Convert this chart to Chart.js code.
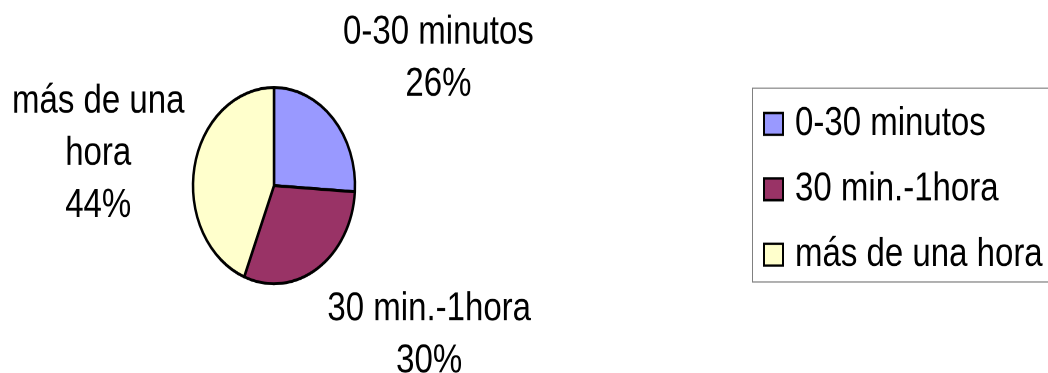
<!DOCTYPE html>
<html>
<head>
<meta charset="utf-8">
<script src="https://cdn.jsdelivr.net/npm/chart.js@4/dist/chart.umd.min.js"></script>
<style>
html, body { margin: 0; padding: 0; background: #fff; overflow: hidden; }
/* the original picture is stretched vertically, so we stretch the whole chart too */
#wrap { position: absolute; left: 0; top: 0; width: 1048px; height: 308px;
        transform: scaleY(1.211); transform-origin: 0 0; }
</style>
</head>
<body>
<div id="wrap"><canvas id="pie"></canvas></div>
<script>
var categories = ['0-30 minutos', '30 min.-1hora', 'más de una hora'];
var percentages = [26, 30, 44];
var sliceColors = ['#9999FF', '#993366', '#FFFFCC'];

var FONT = '33px "Liberation Sans", Arial, sans-serif';
var LINE = 43;   // label line height
var CAP = 23.6;  // cap height of the font

function wrapText(ctx, text, maxWidth) {
    var words = text.split(' ');
    var lines = [];
    var cur = '';
    for (var i = 0; i < words.length; i++) {
        var test = cur ? cur + ' ' + words[i] : words[i];
        if (cur && ctx.measureText(test).width > maxWidth) {
            lines.push(cur);
            cur = words[i];
        } else {
            cur = test;
        }
    }
    if (cur) lines.push(cur);
    return lines;
}

// category name + percent outside each slice
var pieLabels = {
    id: 'pieLabels',
    afterDatasetsDraw: function(chart) {
        var ctx = chart.ctx;
        var arcs = chart.getDatasetMeta(0).data;
        var values = chart.data.datasets[0].data;
        var total = values.reduce(function(a, b) { return a + b; }, 0);
        ctx.save();
        ctx.font = FONT;
        ctx.fillStyle = '#000';
        ctx.textAlign = 'center';
        ctx.textBaseline = 'alphabetic';
        for (var i = 0; i < arcs.length; i++) {
            var p = arcs[i].getProps(['x', 'y', 'startAngle', 'endAngle', 'outerRadius'], true);
            var mid = (p.startAngle + p.endAngle) / 2;
            var hx = Math.cos(mid), vu = -Math.sin(mid);
            var ax = p.x + hx * p.outerRadius;
            var ay = p.y - vu * p.outerRadius;
            var lines = wrapText(ctx, chart.data.labels[i], 210);
            lines.push(Math.round(values[i] / total * 100) + '%');
            var w = 0;
            lines.forEach(function(l) { w = Math.max(w, ctx.measureText(l).width); });
            var hb = (lines.length - 1) * LINE + CAP;
            var fx = Math.abs(hx) > 0.5 ? Math.sign(hx) : hx;
            var fy = Math.abs(vu) > 0.5 ? Math.sign(vu) : vu;
            var cx = ax + fx * (w / 2 + 10);
            var cy = ay - fy * (hb / 2 + 19);
            var y0 = cy - hb / 2 + CAP;
            for (var k = 0; k < lines.length; k++) {
                ctx.fillText(lines[k], cx, y0 + k * LINE);
            }
        }
        ctx.restore();
    }
};

// boxed legend on the right
var boxLegend = {
    id: 'boxLegend',
    afterDraw: function(chart) {
        var ctx = chart.ctx;
        var cy = chart.getDatasetMeta(0).data[0].y;
        var colors = chart.data.datasets[0].backgroundColor;
        ctx.save();
        ctx.strokeStyle = '#808080';
        ctx.lineWidth = 1;
        ctx.strokeRect(752.5, cy - 80.5, 400, 160);
        ctx.font = FONT;
        ctx.textAlign = 'left';
        ctx.textBaseline = 'alphabetic';
        for (var i = 0; i < chart.data.labels.length; i++) {
            var sy = cy - 51 + i * 54;
            ctx.fillStyle = colors[i];
            ctx.fillRect(764, sy - 9, 19, 18);
            ctx.strokeStyle = '#000';
            ctx.lineWidth = 2;
            ctx.strokeRect(764, sy - 9, 19, 18);
            ctx.fillStyle = '#000';
            ctx.fillText(chart.data.labels[i], 795, sy + 9);
        }
        ctx.restore();
    }
};

new Chart(document.getElementById('pie'), {
    type: 'pie',
    data: {
        labels: categories,
        datasets: [{
            data: percentages,
            backgroundColor: sliceColors,
            borderColor: '#000',
            borderWidth: 2.5,
            hoverOffset: 0
        }]
    },
    options: {
        responsive: true,
        maintainAspectRatio: false,
        devicePixelRatio: 2,
        animation: false,
        events: [],
        radius: 81,
        layout: { padding: { left: 150, right: 650, top: 60, bottom: 61.4 } },
        plugins: {
            legend: { display: false },
            tooltip: { enabled: false }
        }
    },
    plugins: [pieLabels, boxLegend]
});
</script>
</body>
</html>
